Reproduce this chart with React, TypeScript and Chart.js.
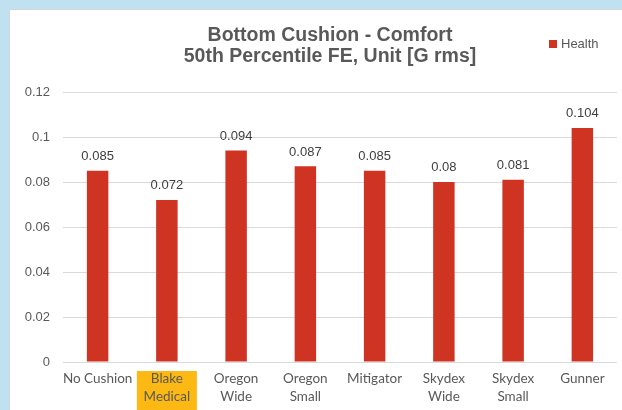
import React, { useEffect, useRef } from "react";
import { Chart, registerables } from "chart.js";

Chart.register(...registerables);

const categories: (string | string[])[] = [
  "No Cushion",
  ["Blake", "Medical"],
  ["Oregon", "Wide"],
  ["Oregon", "Small"],
  "Mitigator",
  ["Skydex", "Wide"],
  ["Skydex", "Small"],
  "Gunner",
];
const healthValues = [0.085, 0.072, 0.094, 0.087, 0.085, 0.08, 0.081, 0.104];
const valueLabels = ["0.085", "0.072", "0.094", "0.087", "0.085", "0.08", "0.081", "0.104"];
const yTickLabels = ["0", "0.02", "0.04", "0.06", "0.08", "0.1", "0.12"];
const seriesName = "Health";
const titleLines = ["Bottom Cushion - Comfort", "50th Percentile FE, Unit [G rms]"];
const highlightIndex = 1;

const BAR = "#CF3423";
const TEXT = "#595959";
const HILITE = "#FCB813";

const overlay = {
  id: "overlay",
  beforeDraw(chart: any) {
    const ctx = chart.ctx;
    const x = chart.scales.x;
    const px = x.getPixelForTick(highlightIndex);
    ctx.save();
    ctx.fillStyle = HILITE;
    ctx.fillRect(px - 30, x.top + 9, 60, chart.height - x.top - 9);
    ctx.restore();
  },
  afterDraw(chart: any) {
    const ctx = chart.ctx;
    ctx.save();
    // title
    ctx.fillStyle = TEXT;
    ctx.font = "bold 19.5px 'Liberation Sans', Arial, sans-serif";
    ctx.textAlign = "center";
    ctx.textBaseline = "alphabetic";
    const cx = chart.width / 2 + 14;
    ctx.fillText(titleLines[0], cx, 31);
    ctx.fillText(titleLines[1], cx, 51.5);
    // legend
    ctx.fillStyle = BAR;
    ctx.fillRect(539, 30, 8, 8);
    ctx.fillStyle = TEXT;
    ctx.font = "13px 'Liberation Sans', Arial, sans-serif";
    ctx.textAlign = "left";
    ctx.fillText(seriesName, 551, 38);
    // data labels
    const meta = chart.getDatasetMeta(0);
    ctx.fillStyle = "#404040";
    ctx.textAlign = "center";
    meta.data.forEach((bar: any, i: number) => {
      ctx.fillText(valueLabels[i], bar.x, bar.y - 10.7);
    });
    ctx.restore();
  },
};

export default function App() {
  const ref = useRef<HTMLCanvasElement | null>(null);
  useEffect(() => {
    if (!ref.current) return;
    const chart = new Chart(ref.current, {
      type: "bar",
      data: {
        labels: categories,
        datasets: [
          {
            label: seriesName,
            data: healthValues,
            backgroundColor: BAR,
            barPercentage: 0.31,
            categoryPercentage: 1,
          },
        ],
      },
      options: {
        animation: false,
        responsive: false,
        maintainAspectRatio: false,
        devicePixelRatio: 1,
        layout: { padding: { top: 82, right: 5, left: 0, bottom: 0 } },
        plugins: {
          legend: { display: false },
          title: { display: false },
          tooltip: { enabled: false },
        },
        scales: {
          x: {
            grid: { display: false, drawTicks: false },
            border: { display: false },
            ticks: {
              color: TEXT,
              padding: 8,
              maxRotation: 0,
              autoSkip: false,
              font: { family: "Lato, 'Liberation Sans', sans-serif", size: 13.5, lineHeight: 1.3 },
            },
            afterFit(scale: any) {
              scale.height = 48;
            },
          },
          y: {
            min: 0,
            max: 0.12,
            grid: { color: "#D9D9D9", drawTicks: false, lineWidth: 1 },
            border: { display: false },
            ticks: {
              stepSize: 0.02,
              color: TEXT,
              padding: 13,
              font: { family: "'Liberation Sans', Arial, sans-serif", size: 13 },
              callback: (_v: any, i: number) => yTickLabels[i],
            },
            afterFit(scale: any) {
              scale.width = 53;
            },
          },
        },
      },
      plugins: [overlay],
    });
    return () => chart.destroy();
  }, []);

  return (
    <div style={{ position: "fixed", left: 0, top: 0, width: 622, height: 410, background: "#BFE1F0", overflow: "hidden" }}>
      <div
        style={{
          position: "absolute",
          left: 9,
          top: 9,
          width: 613,
          height: 401,
          background: "#FFFFFF",
          borderLeft: "1px solid #D4D8DA",
          borderTop: "1px solid #D4D8DA",
        }}
      >
        <canvas ref={ref} width={612} height={400} style={{ display: "block", width: 612, height: 400 }} />
      </div>
    </div>
  );
}
